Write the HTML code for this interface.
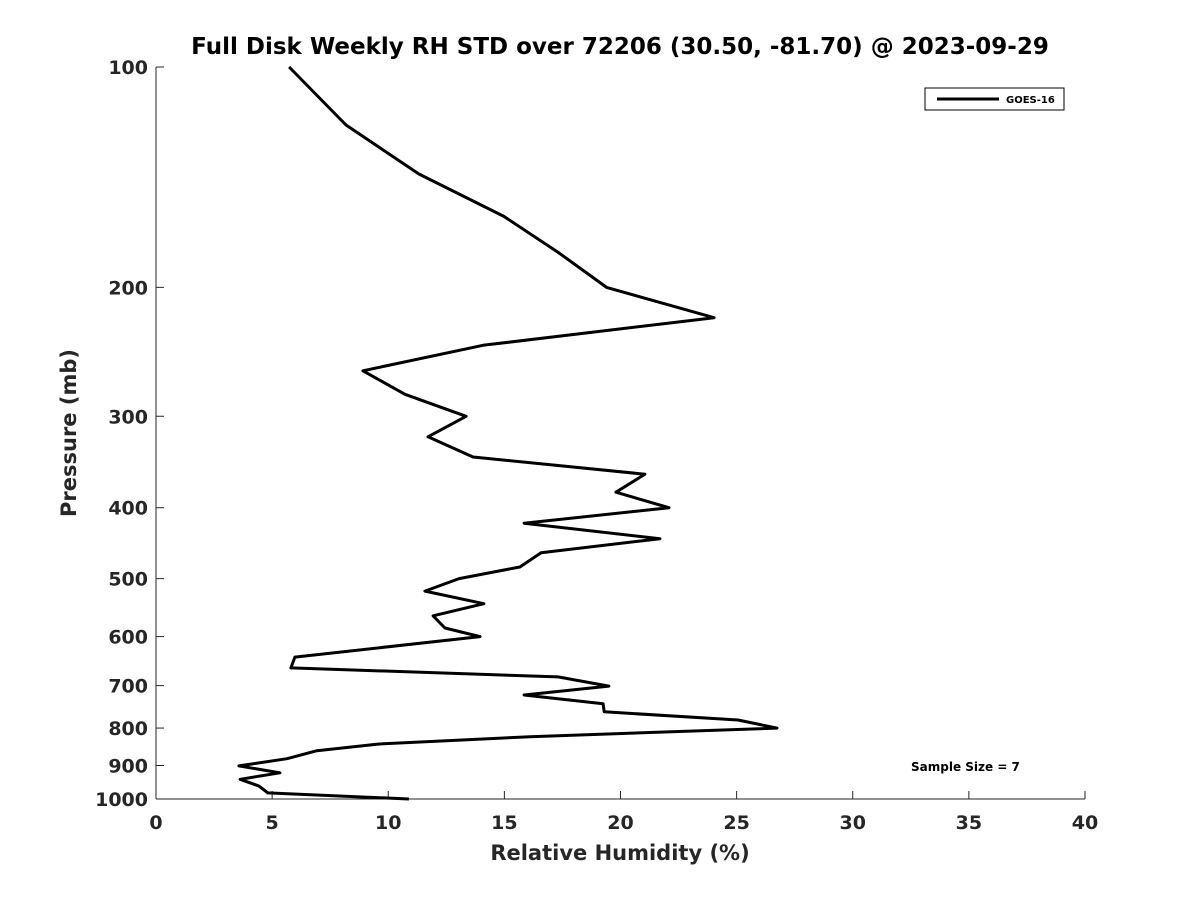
<!DOCTYPE html>
<html><head><meta charset="utf-8">
<style>
body{margin:0;background:#fff;}
svg text{font-family:"DejaVu Sans","Liberation Sans",sans-serif;font-weight:bold;fill:#262626;}
</style></head>
<body>
<svg id="chart" width="1200" height="900" viewBox="0 0 1200 900" xmlns="http://www.w3.org/2000/svg">
<rect width="1200" height="900" fill="#fff"/>
<text x="620" y="54" font-size="23" text-anchor="middle" style="fill:#000">Full Disk Weekly RH STD over 72206 (30.50, -81.70) @ 2023-09-29</text>
<g id="axes"></g>
<polyline id="series" fill="none" stroke="#000" stroke-width="3" stroke-linejoin="round"/>
<g>
<rect x="925" y="88" width="139" height="22" fill="#fff" stroke="#000" stroke-width="1"/>
<line x1="937" y1="99" x2="999" y2="99" stroke="#000" stroke-width="3"/>
<text x="1006" y="103" font-size="10" style="fill:#000">GOES-16</text>
</g>
<text x="911" y="771" font-size="12" style="fill:#000">Sample Size = 7</text>
<text x="620" y="860" font-size="21" text-anchor="middle">Relative Humidity (%)</text>
<text transform="translate(76,433) rotate(-90)" font-size="21" text-anchor="middle">Pressure (mb)</text>
</svg>
<script>
const pressures=[100,120,140,160,179,200,220,240,260,280,300,320,341,360,381,400,420,441,461,482,500,520,541,562,584,600,640,662,681,701,721,741,760,780,800,822,841,859,881,901,921,940,960,981,1000];
const rhValues=[5.73,8.18,11.32,14.98,17.3,19.4,24.03,14.08,8.91,10.72,13.35,11.71,13.65,21.05,19.8,22.09,15.85,21.7,16.58,15.67,13.05,11.58,14.12,11.93,12.44,13.95,5.98,5.81,17.31,19.5,15.85,19.25,19.3,25.06,26.74,16.1,9.6,6.93,5.64,3.57,5.34,3.62,4.43,4.82,10.89];
const xTicks=[0,5,10,15,20,25,30,35,40];
const yTicks=[100,200,300,400,500,600,700,800,900,1000];
const X0=156,X1=1085,Y0=67,Y1=799;
function xs(v){return X0+(v/40)*(X1-X0);}
function ys(p){return Y0+(Math.log10(p)-2)*(Y1-Y0);}
const NS="http://www.w3.org/2000/svg";
const ax=document.getElementById('axes');
function mk(t,a,parent){const e=document.createElementNS(NS,t);for(const k in a)e.setAttribute(k,a[k]);(parent||ax).appendChild(e);return e;}
const yl=mk('line',{x1:X0,y1:Y0,x2:X0,y2:Y1,stroke:'#262626','stroke-width':1});


const xl=mk('line',{x1:X0,y1:Y1,x2:X1,y2:Y1,stroke:'#262626','stroke-width':1});


xTicks.forEach(v=>{
  const x=xs(v);
  mk('line',{x1:x,y1:Y1,x2:x,y2:Y1-8,stroke:'#262626','stroke-width':1});
  const t=mk('text',{x:x,y:Y1+30,'font-size':19,'text-anchor':'middle'});
  t.textContent=v;
  
  
});
yTicks.forEach(p=>{
  const y=ys(p);
  mk('line',{x1:X0,y1:y,x2:X0+8,y2:y,stroke:'#262626','stroke-width':1});
  const t=mk('text',{x:X0-8,y:y+7,'font-size':19,'text-anchor':'end'});
  t.textContent=p;
  
  
});
document.getElementById('series').setAttribute('points',pressures.map((p,i)=>xs(rhValues[i]).toFixed(1)+','+ys(p).toFixed(1)).join(' '));
</script>
</body></html>
